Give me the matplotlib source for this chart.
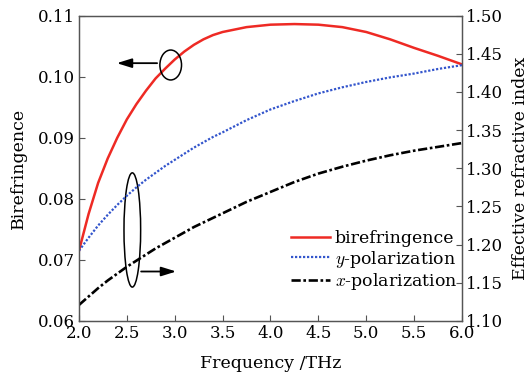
import matplotlib
matplotlib.use("Agg")
import matplotlib.pyplot as plt
from matplotlib.patches import Ellipse

plt.rcParams['font.family'] = ['DejaVu Serif']
plt.rcParams['mathtext.fontset'] = 'cm'

# values
freq = [2.0, 2.1, 2.2, 2.3, 2.4, 2.5, 2.6, 2.7, 2.8, 2.9, 3.0, 3.1, 3.2, 3.3, 3.4,
        3.5, 3.75, 4.0, 4.25, 4.5, 4.75, 5.0, 5.25, 5.5, 5.75, 6.0]
birefringence = [0.0715, 0.0775, 0.0826, 0.0866, 0.0900, 0.0930, 0.0955, 0.0977, 0.0997, 0.1013,
                 0.1028, 0.1041, 0.1052, 0.1061, 0.1068,
                 0.1073, 0.1081, 0.1085, 0.1086, 0.1085, 0.1081, 0.1073, 0.1061, 0.1047, 0.1034, 0.1020]
n_y = [1.192, 1.209, 1.225, 1.239, 1.252, 1.264, 1.275, 1.285, 1.294, 1.303,
       1.311, 1.319, 1.327, 1.334, 1.341,
       1.347, 1.363, 1.377, 1.388, 1.398, 1.406, 1.413, 1.419, 1.424, 1.430, 1.435]
n_x = [1.121, 1.132, 1.143, 1.153, 1.162, 1.171, 1.179, 1.187, 1.195, 1.202,
       1.209, 1.216, 1.223, 1.229, 1.235,
       1.241, 1.256, 1.269, 1.282, 1.293, 1.302, 1.310, 1.317, 1.323, 1.328, 1.333]

x_ticks = [2.0, 2.5, 3.0, 3.5, 4.0, 4.5, 5.0, 5.5, 6.0]
left_ticks = [0.06, 0.07, 0.08, 0.09, 0.10, 0.11]
right_ticks = [1.10, 1.15, 1.20, 1.25, 1.30, 1.35, 1.40, 1.45, 1.50]

fs = 12
fig = plt.figure(figsize=(5.29, 3.82), dpi=100)
ax = fig.add_axes([0.1493, 0.1597, 0.724, 0.7997])
ax2 = ax.twinx()

l1, = ax.plot(freq, birefringence, color='#ee2a24', lw=1.8, label='birefringence')
l2, = ax2.plot(freq, n_y, color='#3355cc', lw=1.6, ls=(0, (1, 0.8)), label='$y$-polarization')
l3, = ax2.plot(freq, n_x, color='black', lw=1.9, ls=(0, (3.5, 1.0, 1.0, 1.0)), label='$x$-polarization')

ax.set_xlim(2.0, 6.0)
ax.set_ylim(0.06, 0.11)
ax2.set_ylim(1.10, 1.50)
ax.set_xticks(x_ticks)
ax.set_xticklabels([f"{v:.1f}" for v in x_ticks])
ax.set_yticks(left_ticks)
ax.set_yticklabels([f"{v:.2f}" for v in left_ticks])
ax2.set_yticks(right_ticks)
ax2.set_yticklabels([f"{v:.2f}" for v in right_ticks])

for a in (ax, ax2):
    a.tick_params(direction='in', length=4, width=0.8, labelsize=fs, color='#555555', pad=3)
    for s in a.spines.values():
        s.set_color('#555555')
        s.set_linewidth(0.9)

ax.set_xlabel('Frequency /THz', fontsize=12.5, labelpad=9)
ax.set_ylabel('Birefringence', fontsize=12.5, labelpad=8)
ax2.set_ylabel('Effective refractive index', fontsize=12.5, labelpad=6)

# markers pointing to the axes
ax.add_patch(Ellipse((2.958, 0.1019), 0.226, 0.0049, fill=False, lw=1.1, ec='black', zorder=5))
ax.annotate('', xy=(2.366, 0.1022), xytext=(2.845, 0.1022),
            arrowprops=dict(arrowstyle='-|>,head_length=0.9,head_width=0.28', color='black', lw=1.3))
ax.add_patch(Ellipse((2.557, 0.0749), 0.174, 0.0187, fill=False, lw=1.1, ec='black', zorder=5))
ax.annotate('', xy=(3.044, 0.0681), xytext=(2.62, 0.0681),
            arrowprops=dict(arrowstyle='-|>,head_length=0.9,head_width=0.28', color='black', lw=1.3))

ax2.legend(handles=[l1, l2, l3], loc='lower right', bbox_to_anchor=(1.015, 0.06),
           frameon=False, fontsize=12.5, handlelength=2.2, handletextpad=0.3,
           labelspacing=0.1, borderaxespad=0.2)

fig.savefig('out.png', dpi=100)
